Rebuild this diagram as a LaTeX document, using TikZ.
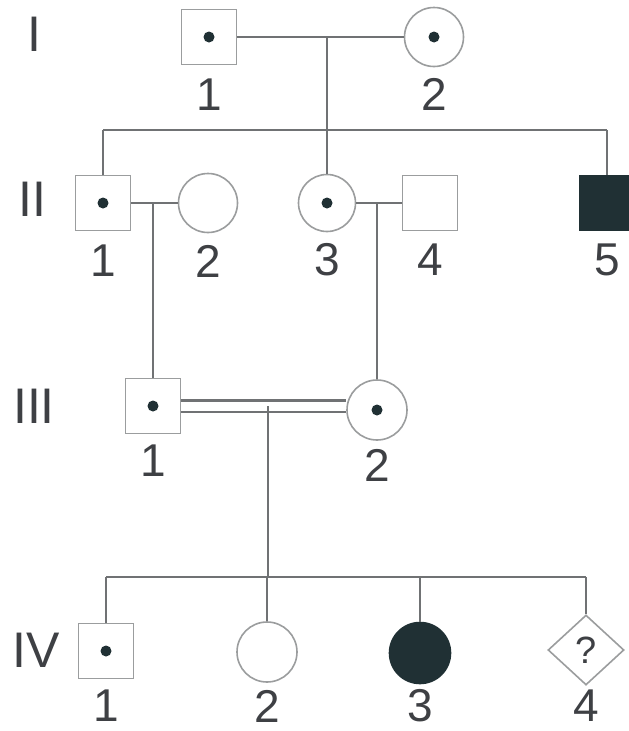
\documentclass[tikz,border=0pt]{standalone}
\usepackage{fontspec}
\setmainfont{Liberation Sans}
\usetikzlibrary{shapes.geometric}
\definecolor{linec}{RGB}{112,114,116}
\definecolor{symc}{RGB}{155,157,158}
\definecolor{darkc}{RGB}{32,48,52}
\definecolor{txtc}{RGB}{62,64,68}
\tikzset{
  sq/.style={draw=symc, line width=1.6pt, rectangle, minimum size=55pt, inner sep=0pt, fill=white},
  ci/.style={draw=symc, line width=1.6pt, circle, minimum size=59pt, inner sep=0pt, fill=white},
  affsq/.style={sq, fill=darkc, draw=darkc},
  affci/.style={ci, fill=darkc, draw=darkc},
  unk/.style={draw=symc, line width=1.6pt, diamond, minimum width=76pt, minimum height=70pt, inner sep=0pt, fill=white, text=txtc, font=\fontsize{38}{40}\selectfont},
  dotc/.style={circle, fill=darkc, minimum size=11pt, inner sep=0pt},
  lab/.style={text=txtc, font=\fontsize{46}{48}\selectfont, inner sep=0pt},
  gen/.style={text=txtc, font=\fontsize{50}{52}\selectfont, inner sep=0pt},
  conn/.style={draw=linec, line width=2.2pt},
}
\begin{document}
\begin{tikzpicture}[x=1pt,y=-1pt]
\useasboundingbox (0,0) rectangle (629,731);
% generation labels
\node[gen] (gI) at (34,34) {I};
\node[gen] (gII) at (32,199) {II};
\node[gen] (gIII) at (34,406) {III};
\node[gen] (gIV) at (36,650) {IV};
% symbols
\node[sq] (I1) at (209,37) {};
\node[ci] (I2) at (434,37) {};
\node[sq] (II1) at (103,203) {};
\node[ci] (II2) at (208,203) {};
\node[ci, minimum size=57pt] (II3) at (327,203) {};
\node[sq] (II4) at (430,203) {};
\node[affsq] (II5) at (607,203) {};
\node[sq] (III1) at (153,406) {};
\node[ci, minimum size=60pt] (III2) at (377,410) {};
\node[sq] (IV1) at (106,651) {};
\node[ci, minimum size=60pt] (IV2) at (267,652) {};
\node[affci, minimum size=61pt] (IV3) at (420,653) {};
\node[unk] (IV4) at (586,650) {?};
% carrier dots
\node[dotc] (dI1) at (I1) {};
\node[dotc] (dI2) at (I2) {};
\node[dotc] (dII1) at (II1) {};
\node[dotc] (dII3) at (II3) {};
\node[dotc] (dIII1) at (III1) {};
\node[dotc] (dIII2) at (III2) {};
\node[dotc] (dIV1) at (IV1) {};
% number labels
\node[lab] (lI1) at (209,95) {1};
\node[lab] (lI2) at (434,94) {2};
\node[lab] (lII1) at (103,261) {1};
\node[lab] (lII2) at (208,261) {2};
\node[lab] (lII3) at (327,260) {3};
\node[lab] (lII4) at (430,260) {4};
\node[lab] (lII5) at (607,260) {5};
\node[lab] (lIII1) at (153,461) {1};
\node[lab] (lIII2) at (377,465) {2};
\node[lab] (lIV1) at (106,706) {1};
\node[lab] (lIV2) at (267,706) {2};
\node[lab] (lIV3) at (420,706) {3};
\node[lab] (lIV4) at (586,706) {4};
% junction coordinates
\coordinate (mI) at (327,37);
\coordinate (sIl) at (103,130);
\coordinate (sIr) at (607,130);
\coordinate (mII1) at (153,203);
\coordinate (mII2) at (377,203);
\coordinate (mIII) at (268,406);
\coordinate (sIVm) at (268,577);
\coordinate (sIVl) at (106,577);
\coordinate (sIVr) at (586,577);
\coordinate (sIV2) at (267,577);
\coordinate (sIV3) at (420,577);
% generation I
\draw[conn] (I1.east) -- (I2.west);
\draw[conn] (mI) -- (II3.north);
\draw[conn] (sIl) -- (sIr);
\draw[conn] (sIl) -- (II1.north);
\draw[conn] (sIr) -- (II5.north);
% generation II
\draw[conn] (II1.east) -- (II2.west);
\draw[conn] (II3.east) -- (II4.west);
\draw[conn] (mII1) -- (III1.north);
\draw[conn] (mII2) -- (III2.north);
% generation III (consanguineous)
\draw[draw=linec, line width=2.2pt, double=white, double distance=9pt] (III1.east) -- (III1.east -| III2.west);
\draw[conn] (mIII) -- (sIVm);
% generation IV
\draw[conn] (sIVl) -- (sIVr);
\draw[conn] (sIVl) -- (IV1.north);
\draw[conn] (sIV2) -- (IV2.north);
\draw[conn] (sIV3) -- (IV3.north);
\draw[conn] (sIVr) -- (IV4.north);
\end{tikzpicture}
\end{document}
